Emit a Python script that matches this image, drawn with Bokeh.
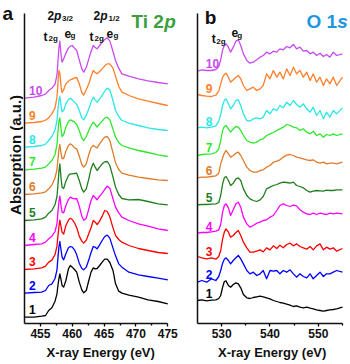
import math
from bokeh.plotting import figure
from bokeh.layouts import row
from bokeh.models import Range1d, FixedTicker, Label
from bokeh.embed import file_html
from bokeh.resources import INLINE

FONT = "Liberation Sans"

# ---------------- Panel a: Ti 2p ----------------
energy_ti = [452.5, 454.0, 455.2, 455.8, 456.3, 456.8, 457.3, 457.6, 457.75, 457.9,
             458.05, 458.25, 458.4, 458.65, 459.0, 459.4, 459.7, 460.0, 460.35, 460.7,
             461.1, 461.5, 461.8, 462.2, 462.6, 462.95, 463.3, 463.6, 463.9, 464.3,
             464.7, 465.1, 465.5, 465.9, 466.4, 466.8, 467.3, 467.8, 468.9, 470.4,
             471.9, 473.5, 475.0]

ti_1 = [0,0,3,5,20,28,48,70,95,115,130,112,95,90,110,145,155,150,143,135,105,82,73,80,110,135,148,145,146,155,165,174,174,164,140,100,78,72,66,60,52,47,40]
ti_2 = [0,2,3,8,23,28,44,70,105,138,155,128,108,100,118,136,140,138,130,115,90,74,70,78,100,122,140,138,133,145,158,170,174,165,135,112,88,78,63,55,50,45,40]
ti_3 = [0,2,5,10,22,28,45,70,100,128,148,128,112,106,132,148,154,150,140,126,100,85,79,88,108,125,147,142,135,145,160,177,174,158,125,102,90,82,72,63,57,51,48]
ti_4 = [0,3,5,10,20,28,42,65,100,130,148,118,100,98,120,138,145,142,140,141,118,88,76,82,110,135,150,144,137,148,157,168,178,172,140,115,98,85,75,65,58,50,45]
ti_5 = [0,2,5,10,22,30,48,72,105,145,170,125,100,96,118,135,140,140,141,142,120,95,85,95,125,155,172,160,150,160,170,176,177,165,130,100,78,66,62,63,57,50,47]
ti_6 = [0,2,5,8,17,28,50,75,105,135,150,122,108,108,130,147,152,148,140,137,115,90,82,92,120,140,147,143,140,152,163,172,174,162,125,95,75,64,58,52,48,44,42]
ti_7 = [0,2,5,8,18,28,46,75,112,145,156,122,100,106,128,145,150,147,143,136,118,95,88,100,118,133,143,136,128,138,146,155,158,150,122,98,82,73,66,58,52,45,40]
ti_8 = [0,2,5,9,20,32,52,80,112,140,152,122,106,110,130,143,147,142,135,128,110,88,82,96,115,135,150,142,135,145,155,168,177,172,140,110,92,80,72,65,58,53,50]
ti_9 = [0,2,5,9,16,28,46,78,118,158,150,108,92,100,118,126,130,132,136,137,118,92,84,100,118,140,158,152,148,155,163,172,178,178,165,140,110,93,83,73,66,59,53]
ti_10 = [0,3,8,12,23,30,42,70,110,150,171,128,108,118,135,150,156,158,150,143,115,88,78,92,118,140,158,152,148,158,168,176,181,172,140,112,90,73,66,58,52,47,43]
ti_offsets = [0, 72, 143, 215, 290, 368, 442, 510, 582, 657]

# ---------------- Panel b: O 1s ----------------
energy_o = [525.0, 525.9, 526.9, 527.9, 528.8, 529.4, 529.8, 530.2, 530.55, 530.9,
            531.4, 531.85, 532.4, 532.95, 533.45, 533.95, 534.5, 535.2, 535.85, 536.55,
            537.25, 537.95, 538.6, 539.3, 540.0, 540.7, 541.4, 542.05, 542.75, 543.45,
            544.15, 544.85, 545.5, 546.2, 546.9, 547.6, 548.3, 548.95, 549.65, 550.35,
            551.05, 551.7, 552.4, 553.1, 553.8, 555.0]

o_1 = [0,2,-1,1,2,6,15,40,57,59,45,40,48,53,50,38,18,8,6,9,11,13,11,8,5,0,-3,-6,-8,-11,-14,-18,-16,-20,-22,-20,-23,-25,-28,-30,-32,-30,-28,-27,-25,-20]
o_2 = [-3,2,-3,7,2,14,32,54,66,70,62,52,62,70,77,67,52,32,22,27,17,22,32,7,32,30,32,22,32,27,34,22,12,22,14,10,22,7,17,27,14,22,22,27,32,27]
o_3 = [4,0,-3,0,-4,4,22,57,77,87,77,62,67,76,82,67,47,30,17,17,20,24,18,30,24,36,28,38,30,40,44,36,42,34,30,26,34,24,36,42,24,32,26,30,20,28]
o_4 = [-1,1,1,3,5,9,25,62,82,87,75,52,69,87,92,77,47,27,17,22,29,32,37,39,47,52,67,82,87,82,79,83,81,69,62,57,55,59,55,59,57,55,59,57,59,57]
o_5 = [-1,0,0,1,2,6,27,62,80,84,72,57,64,77,80,72,47,27,17,12,9,14,24,47,52,57,60,64,67,66,64,67,57,54,50,42,37,40,42,41,40,43,42,42,44,44]
o_6 = [-2,0,0,2,4,12,40,58,72,80,70,60,65,72,75,65,50,30,20,15,15,20,22,30,35,45,48,52,60,66,68,65,60,58,55,52,50,52,45,42,45,40,42,42,40,45]
o_7 = [-3,0,1,2,6,17,42,72,84,87,77,67,77,84,82,72,57,42,37,34,37,44,47,57,62,66,72,77,82,90,87,82,80,72,77,67,62,70,57,62,52,60,57,62,57,62]
o_8 = [0,2,0,2,6,20,40,67,82,87,72,57,67,82,84,67,42,22,20,27,30,27,32,52,42,57,52,67,60,77,67,82,70,62,72,57,47,62,37,52,27,47,32,52,42,60]
o_9 = [3,0,-2,-3,1,13,35,55,63,67,55,40,47,55,60,50,30,15,20,25,15,20,30,65,50,75,55,70,50,80,60,85,65,75,55,70,45,65,40,55,30,50,35,55,30,55]
o_10 = [-2,2,0,0,3,12,32,62,75,80,70,55,70,88,92,75,50,30,22,25,32,40,45,55,50,58,55,65,62,72,68,78,65,70,58,60,50,55,45,52,42,48,40,55,45,50]
o_offsets = [50, 108, 178, 253, 338, 420, 488, 568, 665, 740]

sample_names = ["1", "2", "3", "4", "5", "6", "7", "8", "9", "10"]
colors = ["#000000", "#0000ff", "#ff0000", "#ff00ff", "#1f7f1f",
          "#e07b28", "#2ee82e", "#2ce6e6", "#ff7f2a", "#c84bf0"]

ti_ticks = [455, 460, 465, 470, 475]
ti_minor = [457.5, 462.5, 467.5, 472.5]
o_ticks = [530, 540, 550]
o_minor = [535, 545, 555]

ti_series = [ti_1, ti_2, ti_3, ti_4, ti_5, ti_6, ti_7, ti_8, ti_9, ti_10]
o_series = [o_1, o_2, o_3, o_4, o_5, o_6, o_7, o_8, o_9, o_10]

Y_LO, Y_HI, Y_TOP = -19, 911, 950   # data limits of the axes / top of drawing area


def make_fig(width, xr, xbounds, left, ticks, minor):
    p = figure(width=width, height=364, x_range=xr, y_range=Range1d(Y_LO, Y_TOP),
               output_backend="svg", toolbar_location=None,
               min_border_left=left, min_border_right=0,
               min_border_top=0, min_border_bottom=41)
    p.toolbar.logo = None
    p.grid.visible = False
    p.outline_line_color = None
    p.background_fill_color = "white"
    p.border_fill_color = "white"
    ax = p.xaxis[0]
    ax.bounds = xbounds
    ax.ticker = FixedTicker(ticks=ticks, minor_ticks=minor)
    ax.major_label_text_font = FONT
    ax.major_label_text_font_size = "12px"
    ax.major_label_text_font_style = "bold"
    ax.major_label_text_color = "#111111"
    ax.major_label_standoff = 2
    ax.axis_line_width = 1.5
    ax.axis_line_color = "#111111"
    ax.major_tick_out = 3
    ax.major_tick_in = 0
    ax.minor_tick_out = 2
    ax.minor_tick_in = 0
    ax.major_tick_line_width = 1.3
    ax.minor_tick_line_width = 1.3
    ax.axis_label = "X-ray Energy  (eV)"
    ax.axis_label_text_font = FONT
    ax.axis_label_text_font_size = "13px"
    ax.axis_label_text_font_style = "bold"
    ax.axis_label_text_color = "#111111"
    ax.axis_label_standoff = 4
    ay = p.yaxis[0]
    ay.bounds = (Y_LO, Y_HI)
    ay.ticker = FixedTicker(ticks=[])
    ay.major_tick_out = 0
    ay.major_tick_in = 0
    ay.minor_tick_out = 0
    ay.minor_tick_in = 0
    ay.major_label_standoff = 0
    ay.axis_line_width = 1.5
    ay.axis_line_color = "#111111"
    return p


def txt(p, x, y, s, size, color="#111111", style="bold", align="left", angle=0.0):
    p.add_layout(Label(x=x, y=y, text=s, text_font=FONT, text_font_size=f"{size}px",
                       text_font_style=style, text_color=color, text_align=align,
                       text_baseline="alphabetic", angle=angle))


# ---------- narrow lead column: panel letter and y-axis title ----------
lead = figure(width=23, height=364, x_range=Range1d(0, 23), y_range=Range1d(0, 364),
              output_backend="svg", toolbar_location=None,
              x_axis_location=None, y_axis_location=None,
              min_border_left=0, min_border_right=0, min_border_top=0, min_border_bottom=0)
lead.toolbar.logo = None
lead.grid.visible = False
lead.outline_line_color = None
lead.border_fill_color = "white"
txt(lead, 2, 349, "a", 19)
txt(lead, 14.5, 190, "Absorption (a.u.)", 15, align="center", angle=math.pi / 2)

# ---------- panel a ----------
pa = make_fig(157, Range1d(452.5, 477.0), (452.5, 475), 1, ti_ticks, ti_minor)
for vals, off, c, name in zip(ti_series, ti_offsets, colors, sample_names):
    pa.line(energy_ti, [v + off for v in vals], line_color=c, line_width=1.3,
            line_join="round")
    txt(pa, 453.2, off + 24, name, 12, color=c, style="bold")

txt(pa, 469.3, 888, "Ti 2", 19, color="#3ca03c")
txt(pa, 474.45, 888, "p", 19, color="#3ca03c", style="bold italic")
txt(pa, 456.1, 905, "2", 12)
txt(pa, 457.15, 905, "p", 12, style="bold italic")
txt(pa, 458.38, 896, "3/2", 8)
txt(pa, 463.33, 905, "2", 12)
txt(pa, 464.39, 905, "p", 12, style="bold italic")
txt(pa, 465.69, 896, "1/2", 8)
txt(pa, 455.47, 842, "t", 12)
txt(pa, 456.26, 836, "2g", 8)
txt(pa, 458.77, 851, "e", 12)
txt(pa, 459.72, 845, "g", 8)
txt(pa, 462.70, 842, "t", 12)
txt(pa, 463.49, 836, "2g", 8)
txt(pa, 465.38, 851, "e", 12)
txt(pa, 466.48, 845, "g", 8)

# ---------- panel b ----------
pb = make_fig(170, Range1d(525, 556.66), (525, 555), 17, o_ticks, o_minor)
for vals, off, c, name in zip(o_series, o_offsets, colors, sample_names):
    pb.line(energy_o, [v + off for v in vals], line_color=c, line_width=1.3,
            line_join="round")
    txt(pb, 526.7, off + 20, name, 12, color=c, style="bold")

txt(pb, 526.5, 899, "b", 19)
txt(pb, 553.9, 888, "O 1", 19, color="#2196e0", align="right")
txt(pb, 556.1, 888, "s", 19, color="#2196e0", style="bold italic", align="right")
txt(pb, 527.94, 836, "t", 12)
txt(pb, 528.87, 827, "2g", 8)
txt(pb, 532.06, 854, "e", 12)
txt(pb, 533.2, 845, "g", 8)

layout = row(lead, pa, pb)
open("out.html", "w").write(file_html(layout, INLINE))
